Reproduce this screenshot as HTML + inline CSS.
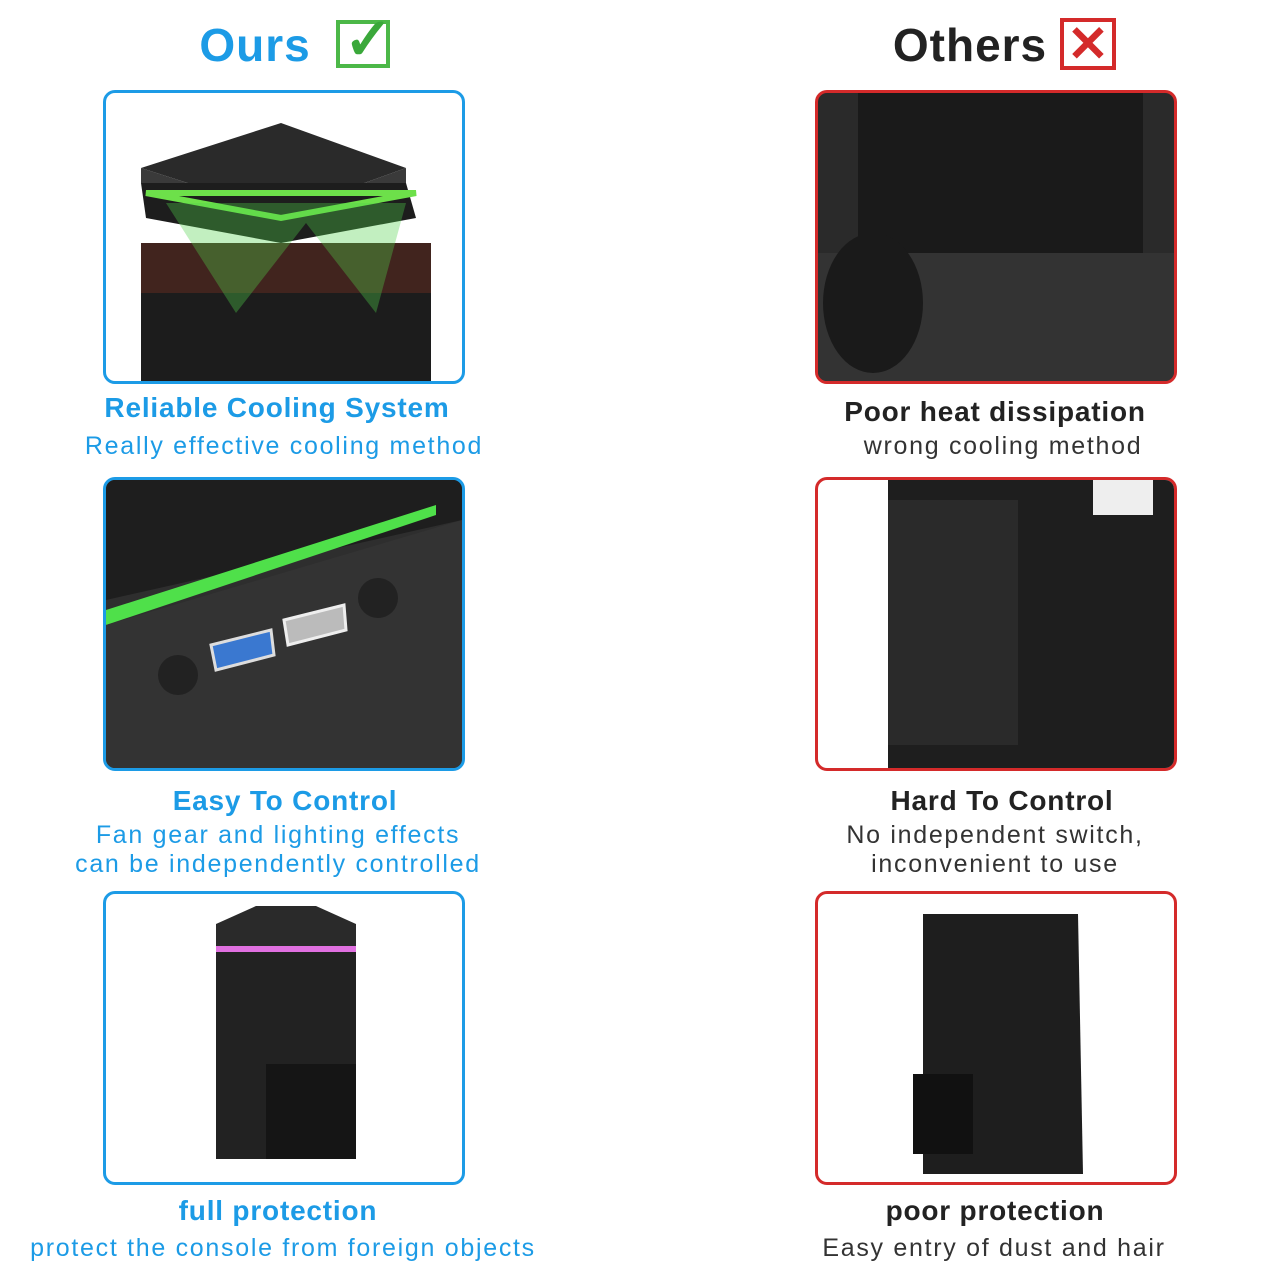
<!DOCTYPE html>
<html><head><meta charset="utf-8"><style>
body{margin:0;width:1280px;height:1280px;background:#fff;position:relative;overflow:hidden;font-family:"Liberation Sans",sans-serif}
.a{position:absolute}
.box{position:absolute;width:356px;height:288px;border:3px solid #1c9be6;border-radius:12px;overflow:hidden;background:#fff}
.r{border-color:#d42a2a}
.t{position:absolute;text-align:center;white-space:nowrap;transform:translateX(-50%)}
.h{font-weight:bold;font-size:28px;letter-spacing:0.8px}
.s{font-size:25px;letter-spacing:1.7px}
.b{color:#1c9be6}.k{color:#222}.g{color:#333}
</style></head><body>
<div class="t b" style="left:255px;top:18px;font-size:46px;font-weight:bold;letter-spacing:1px">Ours</div>
<div class="a" style="left:336px;top:20px;width:54px;height:48px;border:4px solid #4cb848;box-sizing:border-box"></div>
<div class="a" style="left:344px;top:5px;font-size:58px;color:#3aa83a;font-weight:bold">✓</div>
<div class="t k" style="left:970px;top:18px;font-size:46px;font-weight:bold;letter-spacing:1px">Others</div>
<div class="a" style="left:1060px;top:18px;width:56px;height:52px;border:4px solid #d42a2a;box-sizing:border-box;color:#d42a2a;font-size:50px;line-height:44px;text-align:center;font-weight:bold">✕</div>

<div class="box" style="left:103px;top:90px">
 <svg width="356" height="288"><polygon points="35,75 175,30 300,75 175,120" fill="#2a2a2a"/><polygon points="35,75 175,120 300,75 300,90 175,130 35,90" fill="#3a3a3a"/><polygon points="35,90 300,90 310,125 175,150 40,125" fill="#1d1d1d"/><polygon points="40,100 175,125 310,100" fill="none" stroke="#6de04a" stroke-width="6"/><rect x="35" y="150" width="290" height="140" fill="#1c1c1c"/><polygon points="35,150 325,150 325,200 35,200" fill="#5a2a20" opacity=".6"/><polygon points="60,110 130,220 200,130 270,220 300,110" fill="#4fd04a" opacity=".35"/></svg>
</div>
<div class="box" style="left:103px;top:477px;background:#2e2e2e">
 <svg width="356" height="288"><polygon points="0,0 356,0 356,40 0,120" fill="#1e1e1e"/><polygon points="0,130 330,25 330,35 0,145" fill="#4fe04a"/><polygon points="0,145 356,40 356,288 0,288" fill="#333"/><ellipse cx="72" cy="195" rx="20" ry="20" fill="#222"/><ellipse cx="272" cy="118" rx="20" ry="20" fill="#222"/><polygon points="105,165 165,150 168,175 110,190" fill="#3a78d0" stroke="#ddd" stroke-width="3"/><polygon points="178,140 238,125 240,150 182,165" fill="#bbb" stroke="#eee" stroke-width="3"/></svg>
</div>
<div class="box" style="left:103px;top:891px">
 <svg width="356" height="288"><polygon points="110,30 150,12 210,12 250,30 250,55 110,55" fill="#2a2a2a"/><rect x="110" y="52" width="140" height="6" fill="#e070e0"/><polygon points="110,58 250,58 250,265 110,265" fill="#222"/><rect x="160" y="170" width="90" height="95" fill="#151515"/></svg>
</div>

<div class="box r" style="left:815px;top:90px;background:#2a2a2a">
 <svg width="356" height="288"><rect x="40" y="0" width="285" height="185" fill="#1a1a1a"/><rect x="0" y="160" width="356" height="130" fill="#333"/><ellipse cx="55" cy="210" rx="50" ry="70" fill="#1a1a1a"/></svg>
</div>
<div class="box r" style="left:815px;top:477px">
 <svg width="356" height="288"><rect x="70" y="0" width="286" height="288" fill="#1e1e1e"/><rect x="70" y="20" width="130" height="245" fill="#2a2a2a"/><rect x="275" y="0" width="60" height="35" fill="#eee"/></svg>
</div>
<div class="box r" style="left:815px;top:891px">
 <svg width="356" height="288"><polygon points="105,20 260,20 265,280 105,280" fill="#1e1e1e"/><rect x="95" y="180" width="60" height="80" fill="#111"/></svg>
</div>

<div class="t b h" style="left:277px;top:392px">Reliable Cooling System</div>
<div class="t b s" style="left:284px;top:432px">Really effective cooling method</div>
<div class="t k h" style="left:995px;top:396px">Poor heat dissipation</div>
<div class="t g s" style="left:1003px;top:432px">wrong cooling method</div>

<div class="t b h" style="left:285px;top:785px">Easy To Control</div>
<div class="t b s" style="left:278px;top:821px">Fan gear and lighting effects</div>
<div class="t b s" style="left:278px;top:850px">can be independently controlled</div>
<div class="t k h" style="left:1002px;top:785px">Hard To Control</div>
<div class="t g s" style="left:995px;top:821px">No independent switch,</div>
<div class="t g s" style="left:995px;top:850px">inconvenient to use</div>

<div class="t b h" style="left:278px;top:1195px">full protection</div>
<div class="t b s" style="left:283px;top:1234px">protect the console from foreign objects</div>
<div class="t k h" style="left:995px;top:1195px">poor protection</div>
<div class="t g s" style="left:994px;top:1234px">Easy entry of dust and hair</div>
</body></html>
